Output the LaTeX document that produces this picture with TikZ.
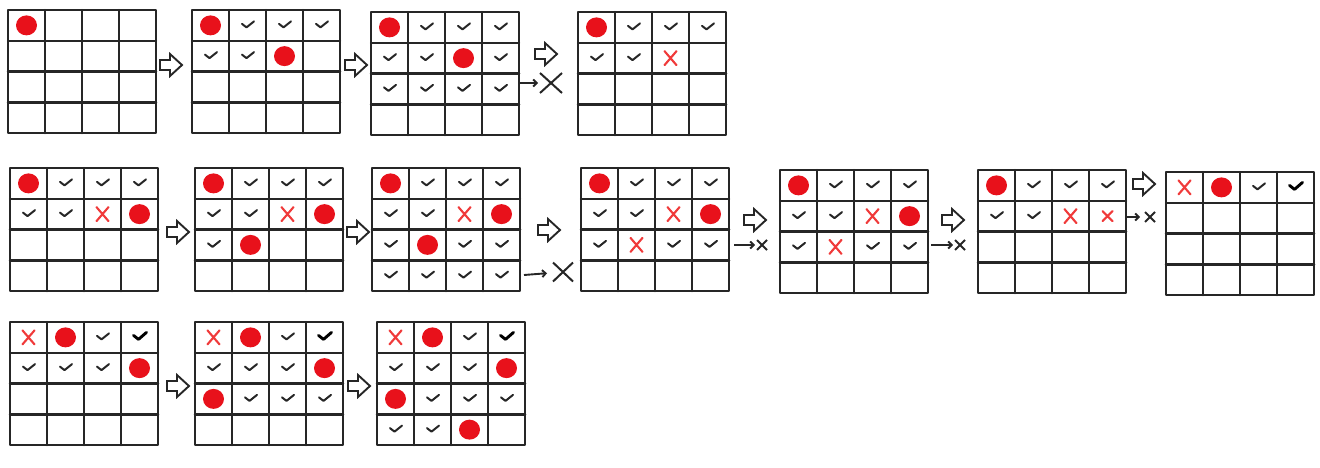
\documentclass[tikz,border=0pt]{standalone}
\usetikzlibrary{calc,shapes.misc,arrows.meta}
\definecolor{ink}{HTML}{262626}
\definecolor{qred}{HTML}{E8111B}
\definecolor{xred}{HTML}{F03A3A}
\tikzset{
 board/.style={draw=ink, line width=2.6pt, minimum width=148pt, minimum height=123pt, inner sep=0pt, outer sep=0pt, line join=round},
 gridline/.style={draw=ink, line width=2.5pt, line cap=round},
 queen/.style={fill=qred},
 check/.style={draw=ink, line width=2pt, line cap=round, line join=round},
 boldcheck/.style={draw=black, line width=2.9pt, line cap=round, line join=round},
 redx/.style={draw=xred, line width=2.1pt, line cap=round},
 hollowp/.style={draw=ink, fill=white, line width=1.9pt, line join=miter},
 deadx/.style={cross out, draw=ink, line width=2pt, inner sep=0pt, outer sep=0pt},
 dead/.style={draw=ink, line width=1.9pt, -{Straight Barb[length=3.5pt,width=7pt]}, shorten >=2pt},
}
\newcommand\board[3]{%
  \node[board, anchor=north west] (#1) at (#2,#3) {};
  \foreach \k in {1,2,3}{
    \draw[gridline] ($(#1.north west)!\k/4!(#1.north east)$) -- ($(#1.south west)!\k/4!(#1.south east)$);
    \draw[gridline] ($(#1.north west)!\k/4!(#1.south west)$) -- ($(#1.north east)!\k/4!(#1.south east)$);
  }}
\newcommand\cellat[3]{\coordinate (cc) at ($(#1.north west)+({(#3-0.5)*37},{(#2-0.5)*30.75})$);}
\newcommand\Qn[3]{\cellat{#1}{#2}{#3}\fill[queen] (cc) ellipse [x radius=10.5pt, y radius=10pt];}
\newcommand\Ck[3]{\cellat{#1}{#2}{#3}\draw[check] ($(cc)+(-5.5,-1.5)$) -- ++(4.5,3.5) -- ++(7.5,-6);}
\newcommand\Bk[3]{\cellat{#1}{#2}{#3}\draw[boldcheck] ($(cc)+(-6,-2)$) -- ++(5,4) -- ++(8,-7);}
\newcommand\Rx[3]{\cellat{#1}{#2}{#3}\draw[redx] ($(cc)+(-6,-7)$) -- ($(cc)+(6,7)$) ($(cc)+(-6,7)$) -- ($(cc)+(6,-7)$);}
\newcommand\Rxs[3]{\cellat{#1}{#2}{#3}\draw[redx] ($(cc)+(-5,-5)$) -- ($(cc)+(5,5)$) ($(cc)+(-5,5)$) -- ($(cc)+(5,-5)$);}
\newcommand\rowA[1]{\Qn{#1}{1}{1}\Ck{#1}{1}{2}\Ck{#1}{1}{3}\Ck{#1}{1}{4}}
\newcommand\rowB[1]{\Ck{#1}{2}{1}\Ck{#1}{2}{2}\Rx{#1}{2}{3}\Qn{#1}{2}{4}}
\newcommand\rowC[1]{\Rx{#1}{1}{1}\Qn{#1}{1}{2}\Ck{#1}{1}{3}\Bk{#1}{1}{4}}
\newcommand\hollow[3]{\coordinate (#1) at (#2,#3);
  \draw[hollowp] ($(#1)+(-11,-5)$) -- ++(10,0) -- ++(0,-6) -- ++(12,11) -- ++(-12,11) -- ++(0,-6) -- ++(-10,0) -- cycle;}
\begin{document}
\begin{tikzpicture}[x=1pt,y=-1pt]
\useasboundingbox (0,0) rectangle (1320,467);
% ---- row 1
\board{g1}{8}{10}
\Qn{g1}{1}{1}
\board{g2}{192}{10}
\rowA{g2}\Ck{g2}{2}{1}\Ck{g2}{2}{2}\Qn{g2}{2}{3}
\board{g3}{371}{12}
\rowA{g3}\Ck{g3}{2}{1}\Ck{g3}{2}{2}\Qn{g3}{2}{3}\Ck{g3}{2}{4}
\foreach \c in {1,2,3,4}{\Ck{g3}{3}{\c}}
\board{g4}{578}{12}
\rowA{g4}\Ck{g4}{2}{1}\Ck{g4}{2}{2}\Rx{g4}{2}{3}
\hollow{h12}{171}{65}
\hollow{h23}{356}{65}
\hollow{h34}{546}{54}
\coordinate (s3) at (520,83);
\node[deadx, minimum width=22pt, minimum height=20pt] (x3) at (551,83) {};
\draw[dead] (s3) -- (x3);
% ---- row 2
\board{g5}{10}{168}
\rowA{g5}\rowB{g5}
\board{g6}{195}{168}
\rowA{g6}\rowB{g6}\Ck{g6}{3}{1}\Qn{g6}{3}{2}
\board{g7}{372}{168}
\rowA{g7}\rowB{g7}\Ck{g7}{3}{1}\Qn{g7}{3}{2}\Ck{g7}{3}{3}\Ck{g7}{3}{4}
\foreach \c in {1,2,3,4}{\Ck{g7}{4}{\c}}
\board{g8}{581}{168}
\rowA{g8}\rowB{g8}\Ck{g8}{3}{1}\Rx{g8}{3}{2}\Ck{g8}{3}{3}\Ck{g8}{3}{4}
\board{g9}{780}{170}
\rowA{g9}\rowB{g9}\Ck{g9}{3}{1}\Rx{g9}{3}{2}\Ck{g9}{3}{3}\Ck{g9}{3}{4}
\board{g10}{978}{170}
\rowA{g10}\Ck{g10}{2}{1}\Ck{g10}{2}{2}\Rx{g10}{2}{3}\Rxs{g10}{2}{4}
\board{g11}{1166}{172}
\rowC{g11}
\hollow{h56}{178}{232}
\hollow{h67}{358}{232}
\hollow{h78}{549}{230}
\hollow{h89}{755}{220}
\hollow{h910}{953}{220}
\hollow{h1011}{1144}{184}
\coordinate (s7) at (524,275);
\node[deadx, minimum width=20pt, minimum height=19pt] (x7) at (563,272) {};
\draw[dead, shorten >=6pt] (s7) -- (x7);
\coordinate (s8) at (734,245);
\node[deadx, minimum size=10pt] (x8) at (762,245) {};
\draw[dead] (s8) -- (x8);
\coordinate (s9) at (931,245);
\node[deadx, minimum size=10pt] (x9) at (960,245) {};
\draw[dead] (s9) -- (x9);
\coordinate (s10) at (1127,217);
\node[deadx, minimum size=10pt] (x10) at (1150,217) {};
\draw[dead, shorten >=5pt] (s10) -- (x10);
% ---- row 3
\board{g12}{10}{322}
\rowC{g12}\Ck{g12}{2}{1}\Ck{g12}{2}{2}\Ck{g12}{2}{3}\Qn{g12}{2}{4}
\board{g13}{195}{322}
\rowC{g13}\Ck{g13}{2}{1}\Ck{g13}{2}{2}\Ck{g13}{2}{3}\Qn{g13}{2}{4}
\Qn{g13}{3}{1}\Ck{g13}{3}{2}\Ck{g13}{3}{3}\Ck{g13}{3}{4}
\board{g14}{377}{322}
\rowC{g14}\Ck{g14}{2}{1}\Ck{g14}{2}{2}\Ck{g14}{2}{3}\Qn{g14}{2}{4}
\Qn{g14}{3}{1}\Ck{g14}{3}{2}\Ck{g14}{3}{3}\Ck{g14}{3}{4}
\Ck{g14}{4}{1}\Ck{g14}{4}{2}\Qn{g14}{4}{3}
\hollow{h1213}{178}{386}
\hollow{h1314}{359}{386}
\end{tikzpicture}
\end{document}
